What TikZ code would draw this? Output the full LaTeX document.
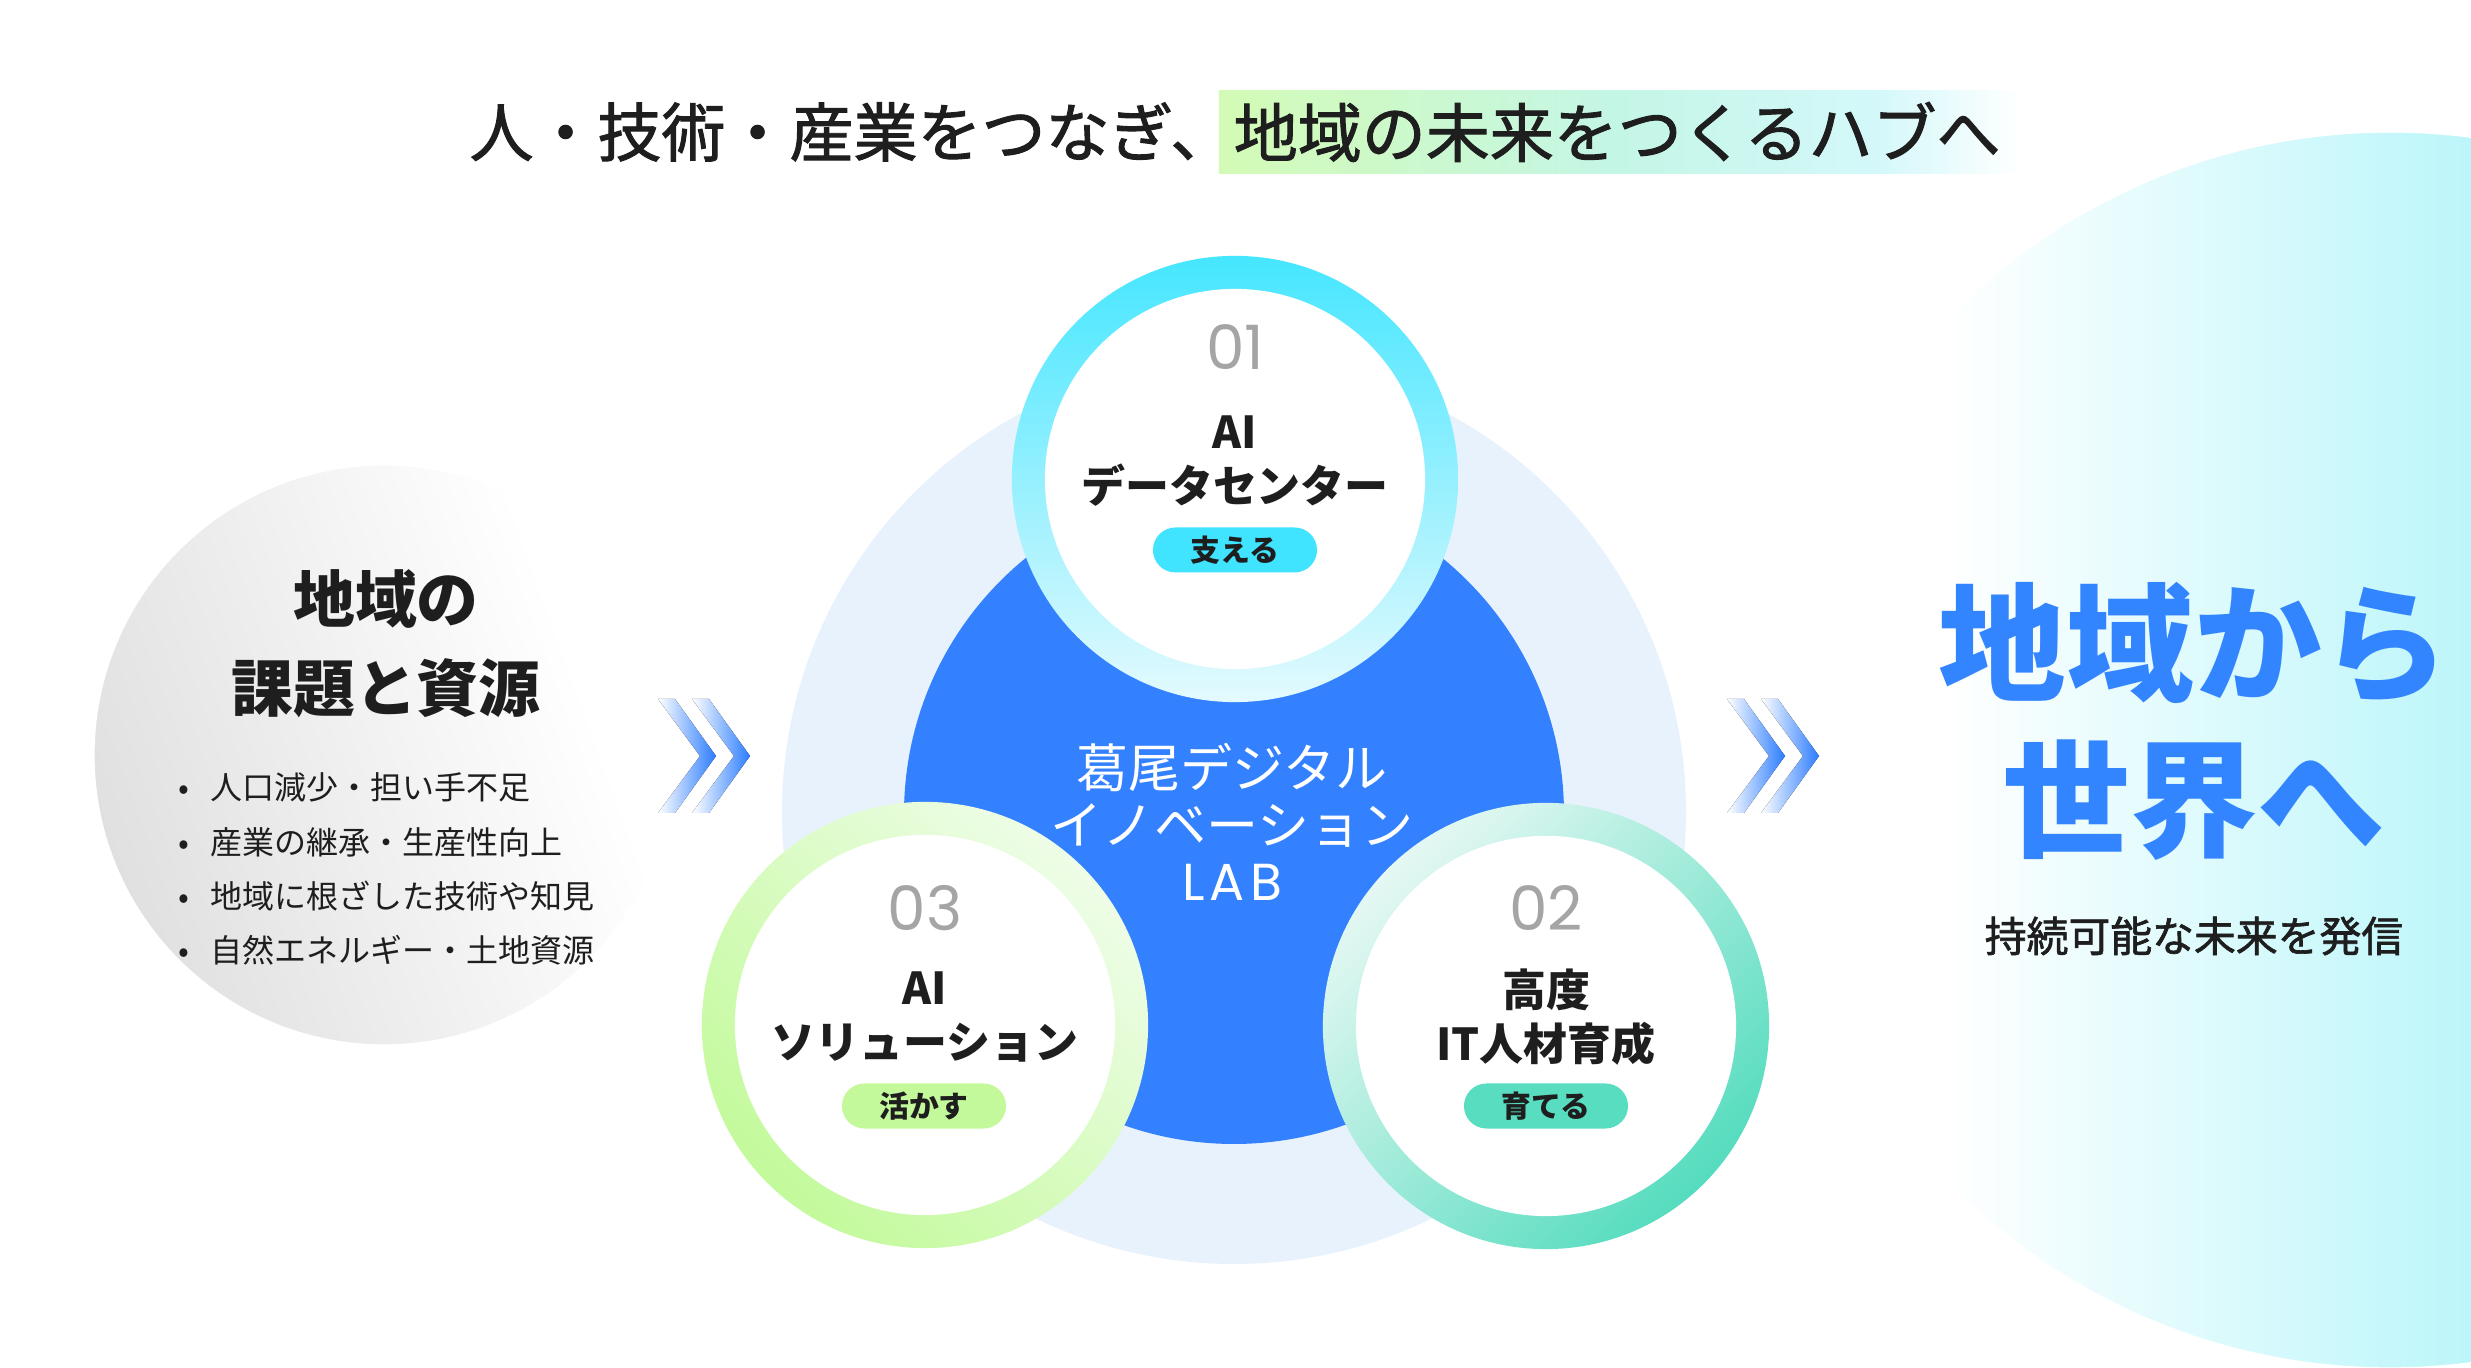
\documentclass[tikz,border=0pt]{standalone}
\usepackage{fontspec}
\setmainfont{Noto Sans CJK JP}
\newfontfamily\jpmedium[FakeBold=1.5]{Noto Sans CJK JP}
\newfontfamily\numfont{Poppins}
\usetikzlibrary{positioning}

\definecolor{inkgray}{RGB}{30, 30, 30}
\definecolor{labblue}{RGB}{51, 129, 255}
\definecolor{wordblue}{RGB}{51, 133, 255}
\definecolor{haloblue}{RGB}{232, 242, 253}
\definecolor{chevblue}{RGB}{43, 124, 255}
\definecolor{numgray}{RGB}{165, 165, 165}
\definecolor{leftgray}{RGB}{224, 224, 224}
\definecolor{skycyan}{RGB}{189, 246, 250}
\definecolor{bandgreen}{RGB}{211, 251, 182}
\definecolor{bandmint}{RGB}{196, 246, 230}
\definecolor{bandcyan}{RGB}{212, 248, 250}
\definecolor{ringcyan}{RGB}{69, 230, 255}
\definecolor{ringcyanlight}{RGB}{228, 250, 254}
\definecolor{pillcyan}{RGB}{65, 228, 255}
\definecolor{ringteal}{RGB}{85, 220, 190}
\definecolor{ringteallight}{RGB}{229, 248, 243}
\definecolor{pillteal}{RGB}{89, 221, 193}
\definecolor{ringgreen}{RGB}{195, 250, 155}
\definecolor{ringgreenlight}{RGB}{238, 253, 231}
\definecolor{pillgreen}{RGB}{196, 249, 155}

\pgfdeclarehorizontalshading{hubband}{100bp}{color(0bp)=(bandgreen); color(25bp)=(bandgreen); color(50bp)=(bandmint); color(66bp)=(bandcyan); color(75bp)=(white); color(100bp)=(white)}
\pgfdeclarehorizontalshading{issuefade}{100bp}{color(0bp)=(leftgray); color(25bp)=(leftgray); color(68bp)=(white); color(100bp)=(white)}
\pgfdeclarehorizontalshading{worldfade}{100bp}{color(0bp)=(white); color(32bp)=(white); color(53bp)=(skycyan); color(100bp)=(skycyan)}

\tikzset{
  lead/.style={font=\jpmedium\fontsize{18.2pt}{20pt}\selectfont, text=inkgray, inner sep=0pt},
  band/.style={lead, shading=hubband, text width=7.72cm, align=left, inner xsep=0.15cm, minimum height=0.82cm},
  heading/.style={font=\bfseries\fontsize{17.6pt}{25.3pt}\selectfont, text=inkgray, align=center, inner sep=0pt},
  bullets/.style={font=\fontsize{9.1pt}{15.4pt}\selectfont, text=inkgray, align=left, inner sep=0pt},
  slogan/.style={font=\bfseries\fontsize{36.3pt}{44.4pt}\selectfont, text=wordblue, align=center, inner sep=0pt},
  subline/.style={font=\jpmedium\fontsize{11.9pt}{14pt}\selectfont, text=inkgray, inner sep=0pt},
  labtext/.style={font=\fontsize{14.8pt}{16.1pt}\selectfont, text=white, align=center, inner sep=0pt},
  ring/.style={circle, minimum size=4.46cm, inner sep=0pt},
  core/.style={circle, fill=white, minimum size=3.80cm, inner sep=0pt},
  cardnum/.style={font=\numfont\fontsize{17.4pt}{17pt}\selectfont, text=numgray, inner sep=0pt},
  cardtitle/.style={font=\bfseries\fontsize{12.5pt}{15.4pt}\selectfont, text=inkgray, align=center, inner sep=0pt},
  pill/.style={rounded corners=0.225cm, minimum width=1.64cm, minimum height=0.45cm, inner sep=0pt,
    font=\bfseries\fontsize{8.5pt}{9pt}\selectfont, text=inkgray}
}

\begin{document}
\begin{tikzpicture}[x=0.01cm, y=-0.01cm]
  \useasboundingbox (0,0) rectangle (2471,1368);
  \fill[white] (0,0) rectangle (2471,1368);

  % backdrop discs (white rims hide the shading fringe)
  \begin{scope}
    \clip (0,0) rectangle (2471,1368);
    \fill[shading=worldfade] (2390,750) circle (620);
    \draw[white, line width=1.5pt] (2390,750) circle (620);
  \end{scope}
  \fill[shading=issuefade, shading angle=20] (384,755) circle (292);
  \draw[white, line width=1.5pt] (384,755) circle (292);
  \fill[haloblue] (1234,812) circle (452);
  \fill[labblue] (1234,814) circle (330);

  % headline
  \node[band] (hub) at (1620,132) {地域の未来をつくるハブへ};
  \node[lead, left=-0.17cm of hub] (leadin) {人・技術・産業をつなぎ、};

  % left disc
  \node[heading] (issues) at (386,644) {地域の\\課題と資源};
  \node[bullets, anchor=west] (issuelist) at (178,869) {%
    \makebox[0.32cm][l]{•}人口減少・担い手不足\\
    \makebox[0.32cm][l]{•}産業の継承・生産性向上\\
    \makebox[0.32cm][l]{•}地域に根ざした技術や知見\\
    \makebox[0.32cm][l]{•}自然エネルギー・土地資源};

  % centre
  \node[labtext] (lab) at (1232,822) {葛尾デジタル\\イノベーション\\{\numfont\addfontfeatures{LetterSpace=10}LAB}};

  % card 01
  \node[ring, top color=ringcyan, bottom color=ringcyanlight] (ring01) at (1235,479) {};
  \node[core] (core01) at (ring01) {};
  \node[cardnum] (num01) at (1235,347) {01};
  \node[cardtitle] (title01) at (1235,461) {AI\\データセンター};
  \node[pill, fill=pillcyan] (role01) at (1235,550) {支える};

  % card 03
  \node[ring, top color=ringgreenlight, bottom color=ringgreen, shading angle=-45] (ring03) at (925,1025) {};
  \node[core] (core03) at (ring03) {};
  \node[cardnum] (num03) at (925,908) {03};
  \node[cardtitle] (title03) at (925,1017) {AI\\ソリューション};
  \node[pill, fill=pillgreen] (role03) at (924,1106) {活かす};

  % card 02
  \node[ring, top color=ringteallight, bottom color=ringteal, shading angle=45] (ring02) at (1546,1026) {};
  \node[core] (core02) at (ring02) {};
  \node[cardnum] (num02) at (1546,908) {02};
  \node[cardtitle] (title02) at (1546,1017) {高度\\IT人材育成};
  \node[pill, fill=pillteal] (role02) at (1546,1106) {育てる};

  % chevrons
  \foreach \cx in {658,692,1727,1761} {
    \fill[left color=white, right color=chevblue]
      (\cx,699) -- ++(17,0) -- ++(41,57) -- ++(-41,57) -- ++(-17,0) -- ++(42,-57) -- cycle;
  }

  % right disc
  \node[slogan] (world) at (2194,721) {地域から\\世界へ};
  \node[subline] (mission) at (2194,936) {持続可能な未来を発信};
\end{tikzpicture}
\end{document}
